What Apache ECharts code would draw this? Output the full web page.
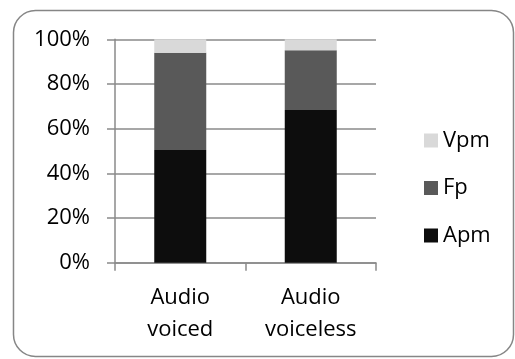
<!DOCTYPE html>
<html>
<head>
<meta charset="utf-8">
<script src="https://cdn.jsdelivr.net/npm/echarts@6/dist/echarts.min.js"></script>
<style>
  html, body { margin: 0; padding: 0; background: #fff; }
  #chart { width: 515px; height: 359px; }
</style>
</head>
<body>
<div id="chart"></div>
<script>
// Categories along the x axis
var categories = ['Audio\nvoiced', 'Audio\nvoiceless'];
// Stacked shares (percent) for each component
var apm = [50.5, 68.4];
var fp  = [43.5, 26.7];
var vpm = [6.0, 4.9];
// Y axis tick range
var yMin = 0, yMax = 100, yStep = 20;

var FONT = '"Open Sans", sans-serif';
var gridColor = '#8a8a8a';

var chart = echarts.init(document.getElementById('chart'), null, { renderer: 'canvas' });

chart.setOption({
  animation: false,
  backgroundColor: '#ffffff',
  graphic: [{
    type: 'rect',
    shape: { x: 13.5, y: 10.5, width: 500, height: 346, r: 22 },
    style: { fill: 'none', stroke: '#868686', lineWidth: 1.5 },
    silent: true
  }],
  grid: { left: 115, right: 139, top: 39.3, bottom: 96.2 },
  legend: {
    orient: 'vertical',
    left: 419,
    top: 124.5,
    itemWidth: 14,
    itemHeight: 14,
    itemGap: 25.5,
    icon: 'rect',
    data: ['Vpm', 'Fp', 'Apm'],
    textStyle: { fontFamily: FONT, fontSize: 22, color: '#000', padding: [0, 0, 0, 0] }
  },
  xAxis: {
    type: 'category',
    data: categories,
    axisLine: { lineStyle: { color: gridColor, width: 1.5 } },
    axisTick: { show: true, length: 8, lineStyle: { color: gridColor, width: 1.5 } },
    axisLabel: { fontFamily: FONT, fontSize: 22, color: '#000', lineHeight: 32, margin: 19, interval: 0 }
  },
  yAxis: {
    type: 'value',
    min: yMin, max: yMax, interval: yStep,
    axisLine: { show: true, lineStyle: { color: gridColor, width: 1.5 } },
    axisTick: { show: true, length: 8, lineStyle: { color: gridColor, width: 1.5 } },
    splitLine: { lineStyle: { color: gridColor, width: 1.5 } },
    axisLabel: { fontFamily: FONT, fontSize: 22, color: '#000', margin: 25, formatter: '{value}%' }
  },
  series: [
    { name: 'Apm', type: 'bar', stack: 'total', data: apm, barWidth: 52, itemStyle: { color: '#0d0d0d' } },
    { name: 'Fp',  type: 'bar', stack: 'total', data: fp,  barWidth: 52, itemStyle: { color: '#595959' } },
    { name: 'Vpm', type: 'bar', stack: 'total', data: vpm, barWidth: 52, itemStyle: { color: '#d9d9d9' } }
  ]
});
</script>
</body>
</html>
